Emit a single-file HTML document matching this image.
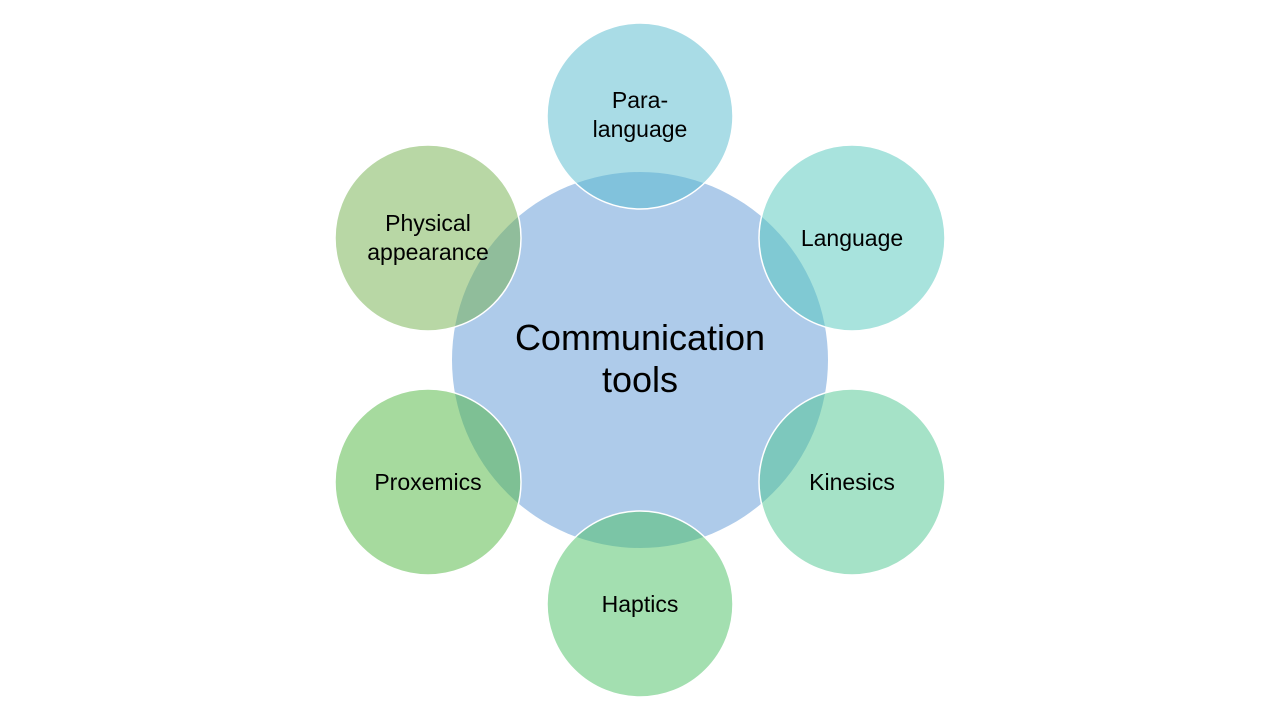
<!DOCTYPE html>
<html><head><meta charset="utf-8"><style>
html,body{margin:0;padding:0;background:#fff;}
svg{display:block}
text{font-family:"Liberation Sans",sans-serif;fill:#000;text-anchor:middle}
</style></head><body>
<svg width="1280" height="720" viewBox="0 0 1280 720">
<rect width="1280" height="720" fill="#fff"/>
<circle cx="640" cy="360" r="188" fill="#AECBEA"/>
<g stroke="#fff" stroke-width="1.5">
<circle cx="640" cy="116" r="93" fill="rgba(83,185,205,0.5)"/>
<circle cx="852" cy="238" r="93" fill="rgba(81,199,187,0.5)"/>
<circle cx="852" cy="482" r="93" fill="rgba(75,197,143,0.5)"/>
<circle cx="640" cy="604" r="93" fill="rgba(71,191,97,0.5)"/>
<circle cx="428" cy="482" r="93" fill="rgba(77,181,61,0.5)"/>
<circle cx="428" cy="238" r="93" fill="rgba(113,175,75,0.5)"/>
</g>
<text x="640" y="350" font-size="36">Communication</text>
<text x="640" y="392" font-size="36">tools</text>
<g font-size="23">
<text x="640" y="108">Para-</text>
<text x="640" y="137">language</text>
<text x="852" y="246">Language</text>
<text x="852" y="490">Kinesics</text>
<text x="640" y="612">Haptics</text>
<text x="428" y="490">Proxemics</text>
<text x="428" y="231">Physical</text>
<text x="428" y="260">appearance</text>
</g>
</svg>
</body></html>
